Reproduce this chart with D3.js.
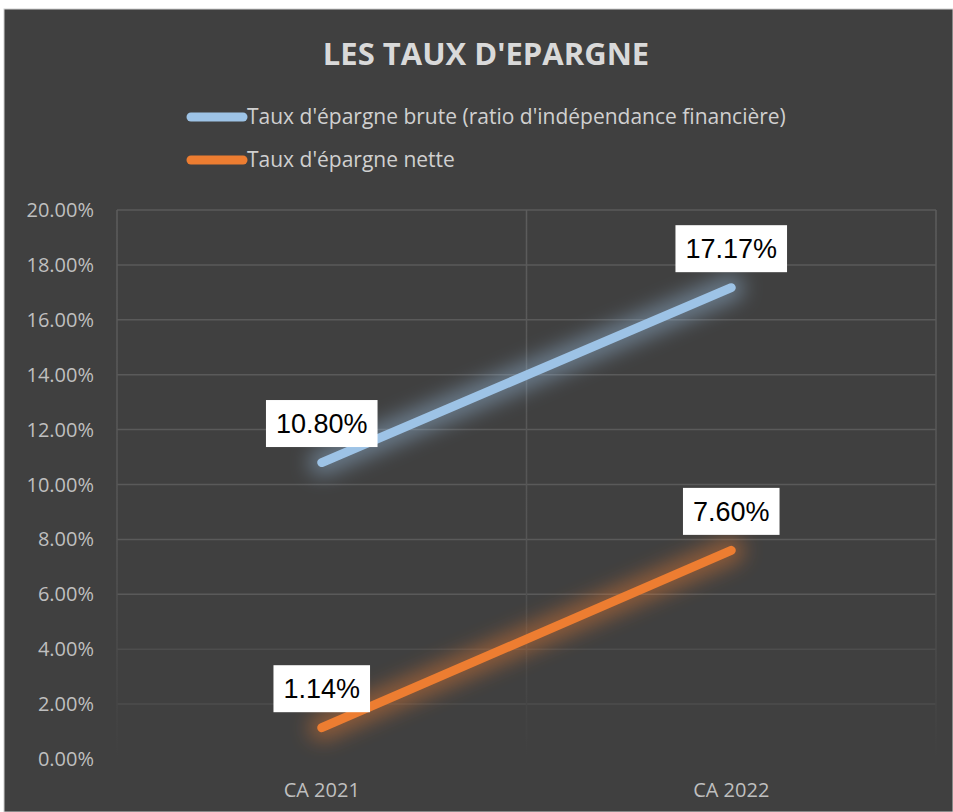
<!DOCTYPE html>
<html>
<head>
<meta charset="utf-8">
<script src="https://cdn.jsdelivr.net/npm/d3@7"></script>
<style>
  html, body { margin: 0; padding: 0; background: #ffffff; }
  svg { display: block; }
</style>
</head>
<body>
<div id="viz"></div>
<script>
var categories = ["CA 2021", "CA 2022"];
var seriesNames = ["Taux d'épargne brute (ratio d'indépendance financière)", "Taux d'épargne nette"];
var brute = [0.1080, 0.1717];
var nette = [0.0114, 0.0760];
var yTicks = [0, 0.02, 0.04, 0.06, 0.08, 0.10, 0.12, 0.14, 0.16, 0.18, 0.20];
var colors = ["#9dc3e6", "#ed7d31"];

var width = 953, height = 812;
var font = "'Open Sans', 'Noto Sans', sans-serif";

var svg = d3.select("#viz").append("svg")
  .attr("width", width)
  .attr("height", height);

// chart background
svg.append("rect")
  .attr("x", 4).attr("y", 9)
  .attr("width", width - 4).attr("height", height - 9)
  .attr("fill", "#404040")
  .attr("stroke", "#d0d0d0").attr("stroke-width", 1);

var x = d3.scaleBand().domain(categories).range([117, 936]);
var y = d3.scaleLinear().domain([0, 0.2]).range([759, 210]);

var defs = svg.append("defs");
var fadeGrad = defs.append("linearGradient")
  .attr("id", "vfade").attr("x1", 0).attr("x2", 0)
  .attr("gradientUnits", "userSpaceOnUse")
  .attr("y1", y(0.2)).attr("y2", y(0));
fadeGrad.append("stop").attr("offset", "0%").attr("stop-color", "#5c5c5c");
fadeGrad.append("stop").attr("offset", "60%").attr("stop-color", "#555555");
fadeGrad.append("stop").attr("offset", "100%").attr("stop-color", "#404040");

var glow = defs.append("filter").attr("id", "glow")
  .attr("x", "-40%").attr("y", "-40%").attr("width", "180%").attr("height", "180%");
glow.append("feGaussianBlur").attr("stdDeviation", 10);

// horizontal grid
svg.append("g").selectAll("line")
  .data(yTicks.filter(function(d) { return d > 0; }))
  .enter().append("line")
  .attr("x1", x.range()[0]).attr("x2", x.range()[1])
  .attr("y1", function(d) { return y(d); })
  .attr("y2", function(d) { return y(d); })
  .attr("stroke", function(d) { return d < 0.05 ? "#4d4d4d" : "#5a5a5a"; })
  .attr("stroke-width", 1.5);

// vertical grid at category boundaries
var bounds = categories.map(function(c) { return x(c); }).concat([x.range()[1]]);
svg.append("g").selectAll("line")
  .data(bounds)
  .enter().append("line")
  .attr("x1", function(d) { return d; }).attr("x2", function(d) { return d; })
  .attr("y1", y(0.2)).attr("y2", y(0))
  .attr("stroke", "url(#vfade)")
  .attr("stroke-width", 1.5);

// y axis labels
svg.append("g").selectAll("text")
  .data(yTicks)
  .enter().append("text")
  .attr("x", 94)
  .attr("y", function(d) { return y(d); })
  .attr("dy", "0.35em")
  .attr("text-anchor", "end")
  .attr("font-family", font)
  .attr("font-size", 20)
  .attr("fill", "#bfbfbf")
  .text(function(d) { return d3.format(".2%")(d); });

// x axis labels
svg.append("g").selectAll("text")
  .data(categories)
  .enter().append("text")
  .attr("x", function(d) { return x(d) + x.bandwidth() / 2; })
  .attr("y", 790)
  .attr("dy", "0.35em")
  .attr("text-anchor", "middle")
  .attr("font-family", font)
  .attr("font-size", 20)
  .attr("fill", "#bfbfbf")
  .text(function(d) { return d; });

// title
svg.append("text")
  .attr("x", 486).attr("y", 54)
  .attr("dy", "0.35em")
  .attr("text-anchor", "middle")
  .attr("font-family", font)
  .attr("font-weight", "bold")
  .attr("font-size", 31)
  .attr("fill", "#d9d9d9")
  .text("LES TAUX D'EPARGNE");

// legend
var legend = svg.append("g").selectAll("g")
  .data(seriesNames)
  .enter().append("g")
  .attr("transform", function(d, i) { return "translate(191," + (117 + i * 43) + ")"; });
legend.append("line")
  .attr("x1", 0).attr("x2", 52)
  .attr("stroke", function(d, i) { return colors[i]; })
  .attr("stroke-width", 9)
  .attr("stroke-linecap", "round");
legend.append("text")
  .attr("x", 56)
  .attr("dy", "0.35em")
  .attr("font-family", font)
  .attr("font-size", 21)
  .attr("fill", "#d0d0d0")
  .text(function(d) { return d; });

// lines
var series = [brute, nette];
var line = d3.line()
  .x(function(d, i) { return x(categories[i]) + x.bandwidth() / 2; })
  .y(function(d) { return y(d); });

series.forEach(function(s, k) {
  // soft halo behind the line
  svg.append("path")
    .attr("d", line(s))
    .attr("fill", "none")
    .attr("stroke", colors[k])
    .attr("stroke-width", 26)
    .attr("stroke-linecap", "round")
    .attr("opacity", 0.45)
    .attr("filter", "url(#glow)");
  svg.append("path")
    .attr("d", line(s))
    .attr("fill", "none")
    .attr("stroke", colors[k])
    .attr("stroke-width", 9)
    .attr("stroke-linecap", "round");
});

// data labels
series.forEach(function(s, k) {
  var g = svg.append("g").selectAll("g")
    .data(s)
    .enter().append("g")
    .attr("transform", function(d, i) {
      return "translate(" + (x(categories[i]) + x.bandwidth() / 2) + "," + (y(d) - 39) + ")";
    });
  var txt = g.append("text")
    .attr("text-anchor", "middle")
    .attr("dy", "0.35em")
    .attr("font-family", "'Liberation Sans', Arial, sans-serif")
    .attr("font-size", 27)
    .attr("fill", "#000000")
    .text(function(d) { return d3.format(".2%")(d); });
  txt.each(function() {
    var b = this.getBBox();
    d3.select(this.parentNode).insert("rect", "text")
      .attr("x", b.x - 10).attr("y", -23.5)
      .attr("width", b.width + 20).attr("height", 47)
      .attr("fill", "#ffffff");
  });
});
</script>
</body>
</html>
